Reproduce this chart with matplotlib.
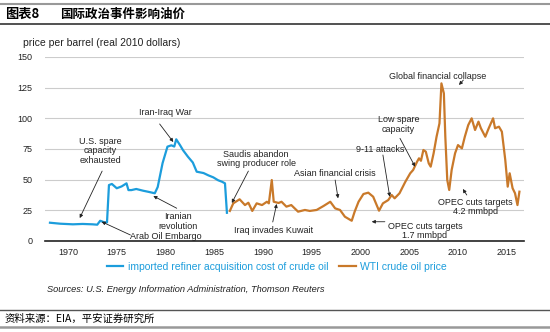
import matplotlib.pyplot as plt
from matplotlib.lines import Line2D

plt.rcParams['font.family'] = ['Liberation Sans', 'Noto Sans CJK SC', 'DejaVu Sans']

# imported refiner acquisition cost of crude oil (real 2010 $)
years_irac = [1968.15, 1969.2, 1970.5, 1971.5, 1972.5, 1973.0, 1973.3, 1973.8, 1974.0, 1974.2,
              1974.5, 1975.0, 1975.5, 1976.0, 1976.2, 1976.5, 1977.0, 1977.7, 1978.3, 1978.9,
              1979.2, 1979.7, 1980.2, 1980.6, 1980.9, 1981.1, 1981.5, 1981.8, 1982.3, 1982.8,
              1983.2, 1983.9, 1984.4, 1984.9, 1985.4, 1985.8, 1986.1, 1986.3]
price_irac = [14.9, 14.1, 13.6, 13.9, 13.6, 13.3, 16.5, 15.0, 15.2, 45.6,
              46.5, 43.0, 44.5, 47.0, 41.5, 41.5, 42.4, 41.0, 40.0, 38.9,
              44.0, 63.5, 76.9, 78.0, 77.0, 82.9, 78.0, 74.0, 68.7, 64.0,
              56.5, 55.4, 53.5, 51.9, 49.5, 48.3, 47.0, 23.0]

# WTI crude oil price (real 2010 $)
years_wti = [1986.6, 1986.95, 1987.6, 1988.15, 1988.5, 1988.9, 1989.35, 1989.9, 1990.4, 1990.6,
             1990.9, 1991.1, 1991.6, 1991.9, 1992.4, 1992.9, 1993.6, 1994.3, 1994.8, 1995.5,
             1996.2, 1996.9, 1997.4, 1997.9, 1998.4, 1999.1, 1999.4, 1999.8, 2000.3, 2000.8,
             2001.3, 2001.9, 2002.3, 2002.85, 2003.2, 2003.5, 2004.0, 2004.6, 2005.1, 2005.4,
             2005.8, 2006.0, 2006.2, 2006.45, 2006.7, 2007.0, 2007.2, 2007.5, 2007.8, 2008.1,
             2008.3, 2008.55, 2008.7, 2008.9, 2009.1, 2009.35, 2009.7, 2010.0, 2010.4, 2010.7,
             2011.05, 2011.4, 2011.75, 2012.1, 2012.35, 2012.8, 2013.15, 2013.6, 2013.8, 2014.2,
             2014.5, 2014.85, 2015.1, 2015.3, 2015.6, 2015.85, 2016.1, 2016.3]
price_wti = [24.5, 30.7, 34.0, 29.3, 31.2, 24.5, 30.7, 29.3, 32.0, 30.7,
             49.7, 32.0, 31.0, 32.0, 28.0, 29.3, 23.9, 25.3, 24.5, 25.3,
             28.5, 32.0, 26.6, 25.3, 19.8, 16.5, 23.9, 32.0, 38.3, 39.4,
             36.1, 24.7, 30.7, 33.4, 37.5, 34.8, 38.9, 48.3, 55.2, 57.9,
             64.6, 67.4, 65.4, 74.2, 72.8, 63.3, 60.6, 71.5, 85.0, 95.9,
             128.5, 120.4, 85.0, 49.7, 41.6, 57.9, 71.5, 78.2, 75.5, 85.0,
             94.5, 100.0, 90.5, 97.3, 91.9, 85.0, 91.9, 100.0, 91.9, 93.2,
             89.1, 66.0, 44.3, 55.2, 43.0, 38.9, 29.3, 40.2]

x_ticks = [1970, 1975, 1980, 1985, 1990, 1995, 2000, 2005, 2010, 2015]
y_ticks = [0, 25, 50, 75, 100, 125, 150]

# events: label, text position, arrow tail, arrow head
events = [
    ("U.S. spare\ncapacity\nexhausted", (1973.3, 73.4), (1973.5, 57.0), (1971.2, 18.7)),
    ("Iran-Iraq War", (1979.95, 104.6), (1979.4, 95.4), (1980.8, 80.7)),
    ("Saudis abandon\nswing producer role", (1989.3, 66.8), (1988.5, 57.0), (1986.8, 31.0)),
    ("Iranian\nrevolution", (1981.3, 16.0), (1981.15, 26.7), (1978.75, 36.7)),
    ("Arab Oil Embargo", (1980.05, 3.5), (1976.4, 4.9), (1973.45, 15.7)),
    ("Iraq invades Kuwait", (1991.1, 8.4), (1991.0, 15.5), (1991.4, 30.2)),
    ("Asian financial crisis", (1997.4, 55.2), (1997.4, 49.7), (1997.7, 34.8)),
    ("9-11 attacks", (2002.0, 74.8), (2002.3, 70.1), (2003.0, 36.1)),
    ("Low spare\ncapacity", (2003.9, 95.0), (2004.05, 83.7), (2005.6, 60.6)),
    ("Global financial collapse", (2007.95, 133.9), (2010.55, 131.2), (2010.1, 127.2)),
    ("OPEC cuts targets\n4.2 mmbpd", (2011.8, 27.7), (2010.9, 37.5), (2010.5, 42.4)),
    ("OPEC cuts targets\n1.7 mmbpd", (2006.6, 8.2), (2002.5, 15.7), (2001.15, 15.7)),
]

blue = '#1c9ddc'
brown = '#c9792a'

fig = plt.figure(figsize=(5.5, 3.32), dpi=100)
ax = fig.add_axes([45 / 550, 1 - 241 / 332, 479 / 550, 184 / 332])

ax.plot(years_irac, price_irac, color=blue, lw=1.6, label='imported refiner acquisition cost of crude oil')
ax.plot(years_wti, price_wti, color=brown, lw=1.6, label='WTI crude oil price')

ax.set_xlim(1967.64, 2016.77)
ax.set_ylim(0, 150)
ax.set_xticks(x_ticks)
ax.set_yticks(y_ticks)
ax.tick_params(length=0, labelsize=6.5, colors='#222222')
ax.tick_params(axis='y', pad=9)
ax.tick_params(axis='x', pad=5)
ax.grid(axis='y', color='#cccccc', lw=0.8)
ax.set_axisbelow(True)
for s in ['top', 'right', 'left']:
    ax.spines[s].set_visible(False)
ax.spines['bottom'].set_color('#222222')
ax.spines['bottom'].set_linewidth(1.2)

for label, txt, tail, head in events:
    ax.text(txt[0], txt[1], label, ha='center', va='center', fontsize=6.5,
            color='#222222', linespacing=1.05)
    ax.annotate('', xy=head, xytext=tail,
                arrowprops=dict(arrowstyle='-|>', color='#222222', lw=0.6,
                                mutation_scale=5, shrinkA=0, shrinkB=0))

fig.text(23 / 550, 1 - 43 / 332, 'price per barrel (real 2010 dollars)', fontsize=7.5,
         va='center', color='#222222')

leg = fig.legend(loc='center', bbox_to_anchor=(277 / 550, 1 - 267 / 332), ncol=2,
                 frameon=False, fontsize=7.5, handlelength=1.6, handletextpad=0.45,
                 columnspacing=1.0)
for t in leg.get_texts():
    t.set_color(blue)

fig.text(47 / 550, 1 - 290 / 332,
         'Sources: U.S. Energy Information Administration, Thomson Reuters',
         fontsize=6.7, style='italic', va='center', color='#222222')

# title bar and footer
fig.text(5 / 550, 1 - 14 / 332, '图表8', fontsize=9.5, fontweight='bold', va='center',
         family=['Noto Sans CJK SC', 'DejaVu Sans'])
fig.text(60 / 550, 1 - 14 / 332, '国际政治事件影响油价', fontsize=9, fontweight='bold',
         va='center', family=['Noto Sans CJK SC', 'DejaVu Sans'])
fig.text(5 / 550, 1 - 319 / 332, '资料来源：EIA，平安证券研究所', fontsize=7.5, style='italic',
         va='center', family=['Noto Sans CJK SC', 'DejaVu Sans'])

for y, c, w in [(4, '#999999', 1.5), (24, '#333333', 1.2), (310, '#555555', 1.0), (327, '#999999', 1.8)]:
    fig.add_artist(Line2D([0, 1], [1 - y / 332, 1 - y / 332], color=c, lw=w,
                          transform=fig.transFigure))

fig.savefig('out.png', dpi=100)
